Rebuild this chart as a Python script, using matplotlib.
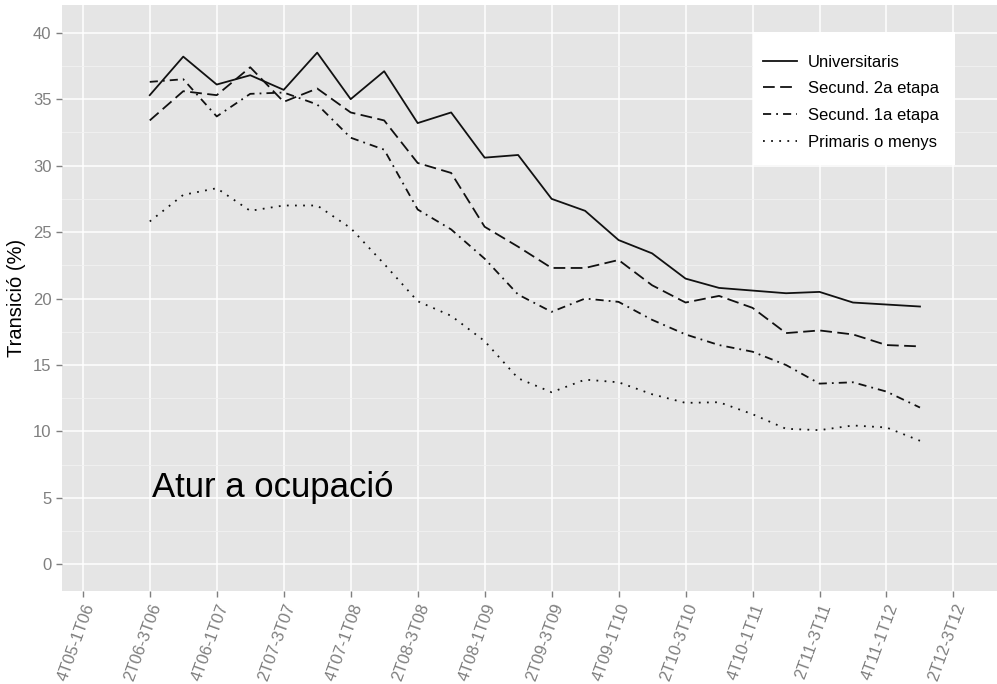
import matplotlib
matplotlib.use("Agg")
import matplotlib.pyplot as plt
from matplotlib.patches import Rectangle
import numpy as np

plt.rcParams["font.family"] = ["Liberation Sans", "DejaVu Sans"]

# quarterly transitions 4T05-1T06 ... 2T12-3T12
quarters = [
    "4T05-1T06", "1T06-2T06", "2T06-3T06", "3T06-4T06", "4T06-1T07", "1T07-2T07",
    "2T07-3T07", "3T07-4T07", "4T07-1T08", "1T08-2T08", "2T08-3T08", "3T08-4T08",
    "4T08-1T09", "1T09-2T09", "2T09-3T09", "3T09-4T09", "4T09-1T10", "1T10-2T10",
    "2T10-3T10", "3T10-4T10", "4T10-1T11", "1T11-2T11", "2T11-3T11", "3T11-4T11",
    "4T11-1T12", "1T12-2T12", "2T12-3T12",
]
first_obs = 2  # data starts at 2T06-3T06

universitaris = [35.3, 38.2, 36.1, 36.8, 35.7, 38.5, 35.0, 37.1, 33.2, 34.0, 30.6, 30.8,
                 27.5, 26.6, 24.4, 23.4, 21.5, 20.8, 20.6, 20.4, 20.5, 19.7, 19.55, 19.4]
secund_2a = [33.4, 35.6, 35.3, 37.4, 34.8, 35.8, 34.0, 33.4, 30.2, 29.45, 25.4, 23.9,
             22.3, 22.3, 22.9, 21.0, 19.7, 20.2, 19.3, 17.4, 17.6, 17.3, 16.5, 16.4]
secund_1a = [36.3, 36.5, 33.7, 35.4, 35.5, 34.6, 32.1, 31.2, 26.7, 25.2, 23.0, 20.3,
             19.0, 20.0, 19.75, 18.4, 17.3, 16.5, 16.0, 15.0, 13.6, 13.7, 13.0, 11.8]
primaris = [25.8, 27.8, 28.3, 26.6, 27.0, 27.0, 25.3, 22.6, 19.8, 18.7, 16.8, 14.0,
            12.95, 13.9, 13.7, 12.8, 12.15, 12.2, 11.3, 10.2, 10.1, 10.45, 10.3, 9.3]

series = [
    ("Universitaris", universitaris, "-"),
    ("Secund. 2a etapa", secund_2a, (0, (6.5, 3))),
    ("Secund. 1a etapa", secund_1a, (0, (4.5, 2.8, 1, 2.8))),
    ("Primaris o menys", primaris, (0, (1, 3.5))),
]

fig = plt.figure(figsize=(9.97, 6.84), dpi=100)
ax = fig.add_axes([0.0622, 0.136, 0.9378, 0.857])
ax.set_facecolor("#E5E5E5")

x = np.arange(first_obs, first_obs + len(universitaris))
for name, vals, ls in series:
    ax.plot(x, vals, color="#111111", linestyle=ls, linewidth=1.3, label=name)

ax.set_xlim(-0.62, 27.3)
ax.set_ylim(-2.0, 42.1)

tick_pos = np.arange(0, len(quarters), 2)
ax.set_xticks(tick_pos)
ax.set_xticklabels([quarters[i] for i in tick_pos], rotation=70, ha="right",
                   rotation_mode="anchor", fontsize=12, color="#7F7F7F")
ax.set_yticks(np.arange(0, 41, 5))
ax.set_yticks(np.arange(2.5, 41, 5), minor=True)
ax.tick_params(axis="y", labelsize=12, labelcolor="#7F7F7F")
ax.tick_params(which="major", color="#7F7F7F", length=4, width=1.0)
ax.tick_params(which="minor", length=0)

ax.grid(which="major", color="white", linewidth=1.1)
ax.grid(which="minor", axis="y", color="#F2F2F2", linewidth=0.6)
ax.set_axisbelow(True)
for s in ax.spines.values():
    s.set_visible(False)

ax.set_ylabel("Transició (%)", fontsize=14.5, labelpad=5)

ax.text(2.07, 5.1, "Atur a ocupació", fontsize=25, ha="left", va="baseline", color="black")

# white legend background box
ax.add_patch(Rectangle((0.739, 0.727), 0.216, 0.227, transform=ax.transAxes,
                       facecolor="white", edgecolor="none", zorder=4))
leg = ax.legend(loc="upper left", bbox_to_anchor=(0.7497, 0.915), fontsize=12,
                frameon=False, handlelength=2.05, handletextpad=0.66,
                borderpad=0, labelspacing=0.7, borderaxespad=0)
leg.set_zorder(5)

fig.savefig("out.png", dpi=100)
